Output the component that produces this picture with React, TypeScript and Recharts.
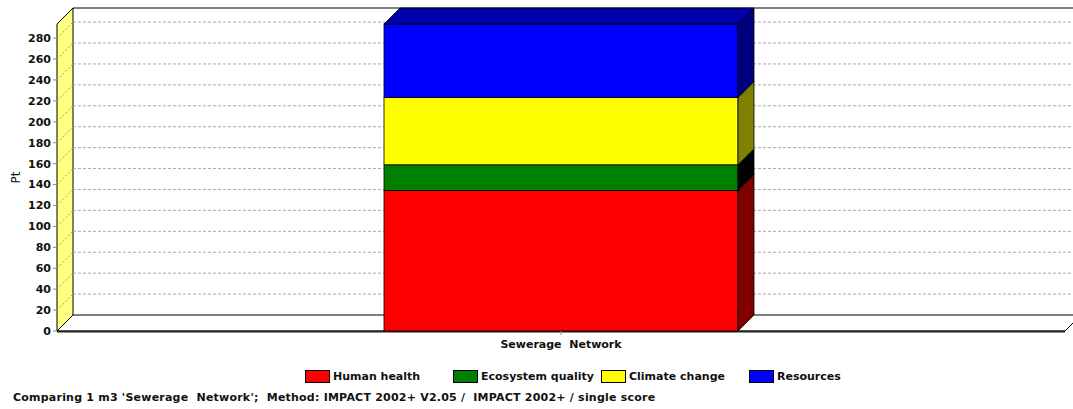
import React from 'react';
import { BarChart, Bar, XAxis, YAxis, CartesianGrid, Legend } from 'recharts';

// single score per damage category (Pt)
const categories = ['Sewerage  Network'];
const humanHealth = [134.3];
const ecosystemQuality = [24.6];
const climateChange = [64.4];
const resources = [70.2];
const yTicks = [0, 20, 40, 60, 80, 100, 120, 140, 160, 180, 200, 220, 240, 260, 280];

const series = [
  { key: 'humanHealth', name: 'Human health', fill: '#FF0000', side: '#800000', top: '#AA0000' },
  { key: 'ecosystemQuality', name: 'Ecosystem quality', fill: '#008000', side: '#000000', top: '#005500' },
  { key: 'climateChange', name: 'Climate change', fill: '#FFFF00', side: '#808000', top: '#AAAA00' },
  { key: 'resources', name: 'Resources', fill: '#0000FF', side: '#000080', top: '#0000AA' },
];

const data = categories.map((name, i) => ({
  name,
  humanHealth: humanHealth[i],
  ecosystemQuality: ecosystemQuality[i],
  climateChange: climateChange[i],
  resources: resources[i],
}));

const W = 1073;
const H = 409;
const DEPTH = 16;
const LEFT = 57;
const RIGHT = 1065;
const TOP = 24;
const BOTTOM = 331;
const X_AXIS_H = 30;
const FONT = '"DejaVu Sans", Verdana, sans-serif';

// floor, left wall and back edge of the 3D box
const Walls = () => (
  <g>
    <polygon
      points={`${LEFT},${BOTTOM} ${RIGHT},${BOTTOM} ${RIGHT + DEPTH},${BOTTOM - DEPTH} ${LEFT + DEPTH},${BOTTOM - DEPTH}`}
      fill="#fff"
      stroke="#000"
      strokeWidth={1}
    />
    <polygon
      points={`${LEFT},${BOTTOM} ${LEFT},${TOP} ${LEFT + DEPTH},${TOP - DEPTH} ${LEFT + DEPTH},${BOTTOM - DEPTH}`}
      fill="#FFFF80"
      stroke="#000"
      strokeWidth={1}
    />
    <line x1={LEFT + DEPTH} y1={TOP - DEPTH} x2={RIGHT + DEPTH} y2={TOP - DEPTH} stroke="#000" strokeWidth={1} />
    <line x1={LEFT} y1={BOTTOM + 0.5} x2={RIGHT} y2={BOTTOM + 0.5} stroke="#222" strokeWidth={2} />
  </g>
);

// grid lines sit on the back wall and run diagonally across the left wall;
// the zero line is where the box itself gets drawn, underneath the rest
const GridLine = (props: any) => {
  const { x1, y1, x2 } = props;
  if (Math.abs(y1 - BOTTOM) < 1) return <Walls key={props.key} />;
  return (
    <g key={props.key}>
      <line x1={x1} y1={y1} x2={x1 + DEPTH} y2={y1 - DEPTH} stroke="#999" strokeDasharray="2 2" />
      <line x1={x1 + DEPTH} y1={y1 - DEPTH} x2={x2 + DEPTH} y2={y1 - DEPTH} stroke="#aaa" strokeDasharray="3 2" />
    </g>
  );
};

const Box3D = (props: any) => {
  const { x, y, width, height, fill, side, top, showTop } = props;
  if (!height) return null;
  const r = x + width;
  return (
    <g>
      <rect x={x} y={y} width={width} height={height} fill={fill} stroke="#000" strokeWidth={0.8} />
      <polygon
        points={`${r},${y + height} ${r},${y} ${r + DEPTH},${y - DEPTH} ${r + DEPTH},${y + height - DEPTH}`}
        fill={side}
        stroke="#000"
        strokeWidth={0.8}
      />
      {showTop && (
        <polygon
          points={`${x},${y} ${r},${y} ${r + DEPTH},${y - DEPTH} ${x + DEPTH},${y - DEPTH}`}
          fill={top}
          stroke="#000"
          strokeWidth={0.8}
        />
      )}
    </g>
  );
};

const CategoryTick = (props: any) => {
  const { x, y, payload } = props;
  return (
    <text
      x={x}
      y={y + 11}
      textAnchor="middle"
      fontFamily={FONT}
      fontWeight="bold"
      fontSize={11}
      fill="#111"
      style={{ whiteSpace: 'pre' }}
    >
      {payload.value}
    </text>
  );
};

const LegendRow = (props: any) => {
  const { payload } = props;
  return (
    <div style={{ display: 'flex', paddingLeft: 305, fontFamily: FONT, fontWeight: 'bold', fontSize: 11, color: '#111' }}>
      {(payload || []).map((p: any) => (
        <div key={p.value} style={{ width: 148, display: 'flex', alignItems: 'center' }}>
          <span
            style={{
              display: 'inline-block',
              width: 23,
              height: 11,
              background: p.color,
              border: '1px solid #000',
              marginRight: 3,
            }}
          />
          <span style={{ whiteSpace: 'nowrap' }}>{p.value}</span>
        </div>
      ))}
    </div>
  );
};

const seriesOrder = (item: any) => series.findIndex((s) => s.name === item.value);

export default function App() {
  return (
    <div style={{ position: 'relative', width: W, height: H, background: '#fff' }}>
      <style>{'body{margin:0}'}</style>
      <BarChart
        width={W}
        height={H}
        data={data}
        margin={{ top: TOP, right: W - RIGHT, bottom: H - BOTTOM - X_AXIS_H, left: LEFT - 50 }}
      >
        <CartesianGrid vertical={false} horizontal={GridLine} horizontalValues={yTicks} />
        <XAxis
          dataKey="name"
          height={X_AXIS_H}
          axisLine={false}
          tickLine={{ stroke: '#888' }}
          tickSize={4}
          tick={<CategoryTick />}
        />
        <YAxis
          width={50}
          domain={[0, 'dataMax']}
          ticks={yTicks}
          interval={0}
          axisLine={false}
          tickLine={{ stroke: '#888' }}
          tickSize={4}
          tickMargin={2}
          tick={{ fontFamily: FONT, fontWeight: 'bold', fontSize: 11, fill: '#111' }}
          label={{
            value: 'Pt',
            angle: -90,
            position: 'insideLeft',
            dx: 4,
            style: { fontFamily: FONT, fontSize: 12, fill: '#111', textAnchor: 'middle' },
          }}
        />
        <Legend
          content={<LegendRow />}
          verticalAlign="middle"
          align="center"
          itemSorter={seriesOrder}
          wrapperStyle={{ left: 0, top: 370, width: W }}
        />
        {series.map((s, i) => (
          <Bar
            key={s.key}
            dataKey={s.key}
            name={s.name}
            stackId="a"
            fill={s.fill}
            barSize={354}
            isAnimationActive={false}
            shape={(p: any) => (
              <Box3D {...p} side={s.side} top={s.top} showTop={i === series.length - 1} />
            )}
          />
        ))}
      </BarChart>
      <div
        style={{
          position: 'absolute',
          left: 13,
          top: 391,
          fontFamily: FONT,
          fontWeight: 'bold',
          fontSize: 11,
          letterSpacing: 0.22,
          color: '#111',
          whiteSpace: 'pre',
        }}
      >
        {"Comparing 1 m3 'Sewerage  Network';  Method: IMPACT 2002+ V2.05 /  IMPACT 2002+ / single score"}
      </div>
    </div>
  );
}
